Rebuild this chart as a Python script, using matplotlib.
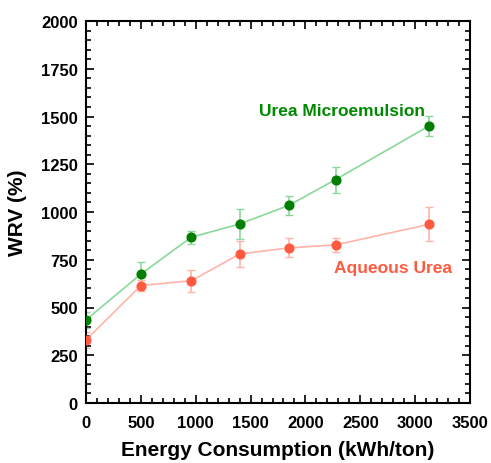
import matplotlib
matplotlib.use("Agg")
import matplotlib.pyplot as plt
from matplotlib.ticker import MultipleLocator

plt.rcParams['font.family'] = ['Liberation Sans', 'DejaVu Sans']
plt.rcParams['font.weight'] = 'bold'

# energy consumption (kWh/ton)
energy = [0, 500, 960, 1400, 1850, 2275, 3125]

# WRV (%) values and error bars
micro_wrv = [435, 675, 868, 937, 1035, 1170, 1450]
micro_err = [40, 65, 35, 80, 50, 68, 52]
aq_wrv = [330, 615, 640, 780, 812, 828, 935]
aq_err = [40, 30, 57, 68, 50, 37, 89]

fig = plt.figure(figsize=(4.91, 4.64), dpi=100)
ax = fig.add_axes([86 / 491, 60 / 464, 384 / 491, 382 / 464])

ax.errorbar(energy, micro_wrv, yerr=micro_err, color='#8ad89a', lw=1.2,
            capsize=3, elinewidth=1.2, zorder=2)
ax.plot(energy, micro_wrv, 'o', color='#007f00', ms=6.3, zorder=3)
ax.errorbar(energy, aq_wrv, yerr=aq_err, color='#ffb4aa', lw=1.2,
            capsize=3, elinewidth=1.2, zorder=2)
ax.plot(energy, aq_wrv, 'o', color='#ff5a40', ms=6.3, zorder=3)

ax.text(2330, 1530, 'Urea Microemulsion', color='#008a00', fontsize=12.5,
        fontweight='bold', ha='center', va='center')
ax.text(2800, 712, 'Aqueous Urea', color='#ff5a40', fontsize=12.5,
        fontweight='bold', ha='center', va='center')

ax.set_xlim(0, 3500)
ax.set_ylim(0, 2000)
ax.xaxis.set_major_locator(MultipleLocator(500))
ax.xaxis.set_minor_locator(MultipleLocator(100))
ax.yaxis.set_major_locator(MultipleLocator(250))
ax.yaxis.set_minor_locator(MultipleLocator(50))
ax.tick_params(which='both', direction='in', top=True, right=True, width=1.2)
ax.tick_params(which='major', length=6, labelsize=12, pad=6)
ax.tick_params(axis='x', which='major', pad=9)
ax.tick_params(which='minor', length=3.5)
for lab in ax.get_xticklabels() + ax.get_yticklabels():
    lab.set_fontweight('bold')
for s in ax.spines.values():
    s.set_linewidth(1.5)

ax.set_xlabel('Energy Consumption (kWh/ton)', fontsize=15, fontweight='bold', labelpad=7)
ax.set_ylabel('WRV (%)', fontsize=15, fontweight='bold', labelpad=10)

fig.savefig('out.png', dpi=100)
